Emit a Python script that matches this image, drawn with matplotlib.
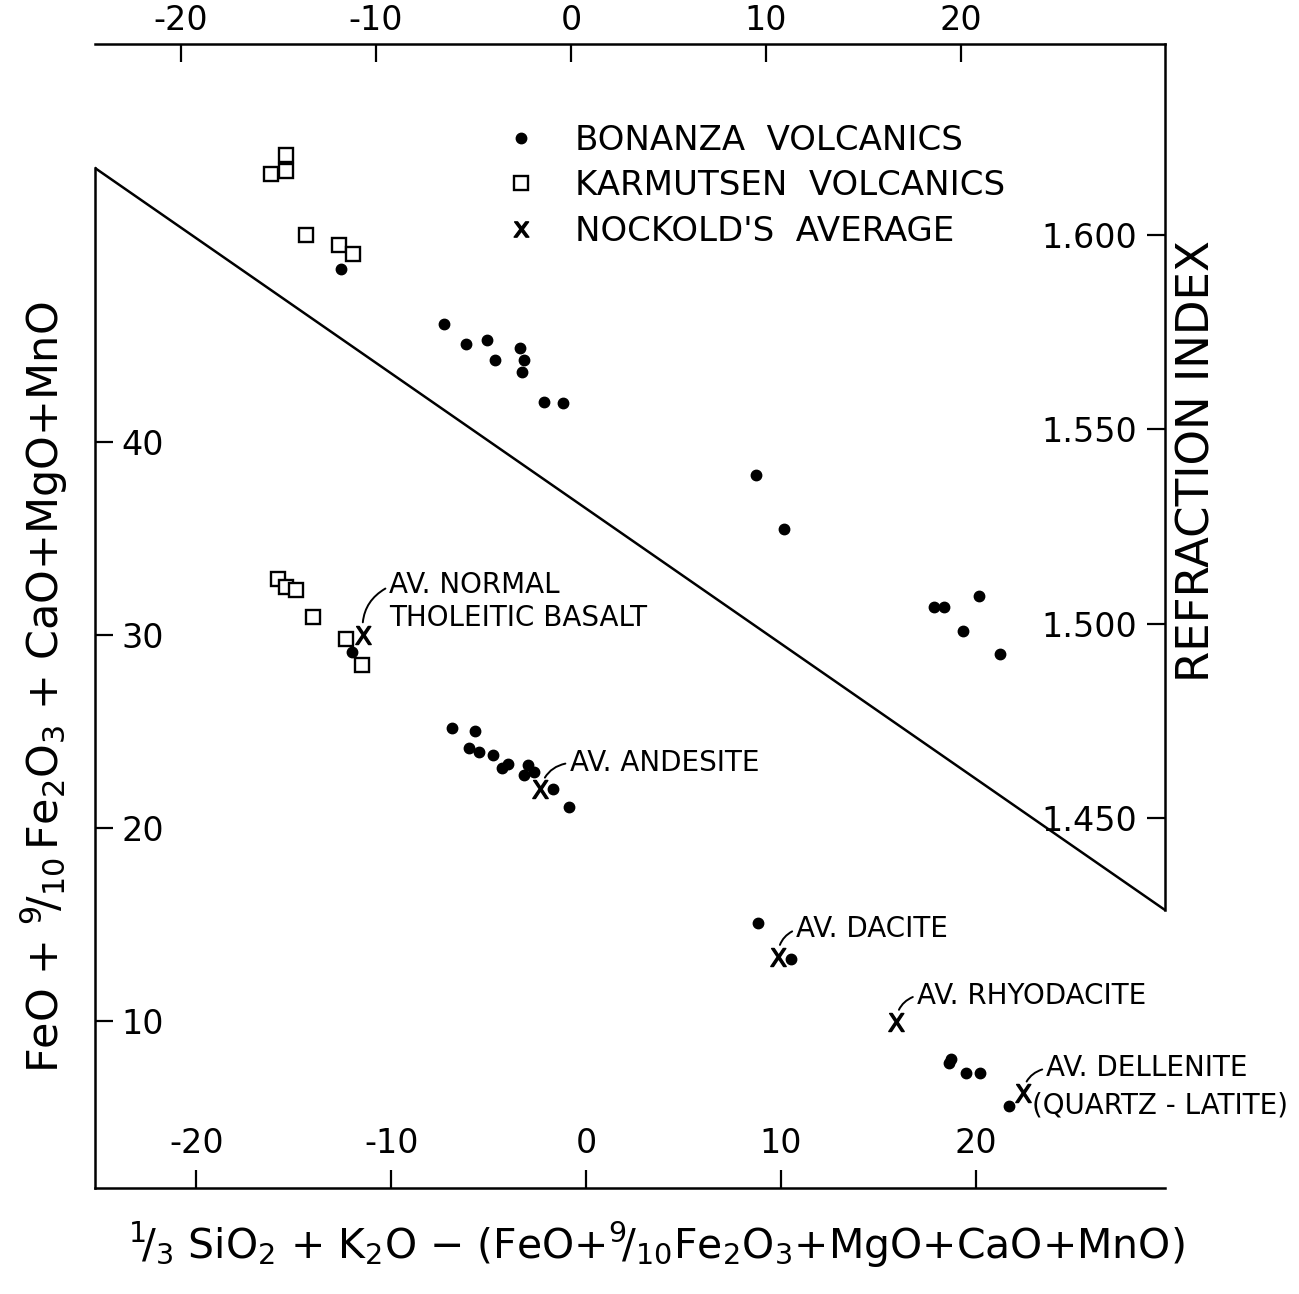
import matplotlib.pyplot as plt
from matplotlib.lines import Line2D

plt.rcParams['font.family'] = 'DejaVu Sans'
plt.rcParams['mathtext.default'] = 'regular'
plt.rcParams['axes.unicode_minus'] = False

# --- upper diagram: refraction index of glass vs composition parameter ---
bon_ri_x = [-11.8, -6.5, -5.4, -4.3, -3.9, -2.6, -2.4, -2.5, -1.4, -0.4,
            9.5, 10.9, 18.6, 19.1, 20.9, 20.1, 22.0]
bon_ri = [1.5913, 1.5771, 1.5720, 1.5730, 1.5678, 1.5709, 1.5678, 1.5648, 1.5570, 1.5568,
          1.5383, 1.5244, 1.5043, 1.5043, 1.5071, 1.4981, 1.4922]
kar_ri_x = [-14.6, -14.6, -15.4, -13.6, -11.9, -11.2]
kar_ri = [1.6206, 1.6165, 1.6157, 1.6000, 1.5974, 1.5951]

# --- lower diagram: mafic sum vs composition parameter ---
bon_x = [-12.0, -6.9, -5.7, -6.0, -5.5, -4.8, -4.3, -4.0, -3.0, -3.2, -2.7, -1.7, -0.9,
         8.8, 10.5, 18.7, 18.6, 19.5, 20.2, 21.7]
bon_y = [29.1, 25.2, 25.0, 24.15, 23.95, 23.8, 23.1, 23.3, 23.25, 22.75, 22.9, 22.0, 21.1,
         15.1, 13.2, 8.05, 7.8, 7.3, 7.3, 5.6]
kar_x = [-15.8, -15.4, -14.9, -14.0, -12.3, -11.5]
kar_y = [32.9, 32.5, 32.3, 30.9, 29.8, 28.45]

# Nockold's averages
nock_x = [-11.45, -2.35, 9.85, 15.9, 22.4]
nock_y = [30.0, 22.0, 13.3, 9.95, 6.25]
nock_names = ['AV. NORMAL\nTHOLEITIC BASALT', 'AV. ANDESITE', 'AV. DACITE',
              'AV. RHYODACITE', 'AV. DELLENITE']

fig = plt.figure(figsize=(12.99, 12.94), dpi=100)
W, H = 1299, 1294
left_px, right_px, top_px, bot_px = 95, 1165, 44, 1188
rect = [left_px / W, 1 - bot_px / H, (right_px - left_px) / W, (bot_px - top_px) / H]

ax = fig.add_axes(rect)
ax2 = fig.add_axes(rect, label='upper')
ax2.set_facecolor('none')

# lower axes (bottom / left)
ax.set_xlim(-25.2, 29.7)
ax.set_ylim(1.35, 60.6)
ax.set_xticks([-20, -10, 0, 10, 20])
ax.set_yticks([10, 20, 30, 40])
ax.spines['top'].set_visible(False)
ax.spines['right'].set_visible(False)
ax.spines['left'].set_bounds(1.35, 54.2)
for s in ['left', 'bottom']:
    ax.spines[s].set_linewidth(1.8)
ax.tick_params(axis='both', direction='in', length=13, width=1.6, labelsize=24)
ax.tick_params(axis='y', pad=-19)
ax.tick_params(axis='x', pad=-20)
for t in ax.yaxis.get_major_ticks():
    t.label1.set_horizontalalignment('left')
for t in ax.xaxis.get_major_ticks():
    t.label1.set_verticalalignment('bottom')

# upper axes (top / right)
ax2.set_xlim(-24.4, 30.45)
ax2.set_ylim(1.3548, 1.6491)
ax2.xaxis.tick_top()
ax2.yaxis.tick_right()
ax2.set_xticks([-20, -10, 0, 10, 20])
ax2.set_yticks([1.45, 1.50, 1.55, 1.60])
ax2.set_yticklabels(['1.450', '1.500', '1.550', '1.600'])
ax2.spines['left'].set_visible(False)
ax2.spines['bottom'].set_visible(False)
ax2.spines['right'].set_bounds(1.4263, 1.6491)
for s in ['top', 'right']:
    ax2.spines[s].set_linewidth(1.8)
ax2.tick_params(axis='both', direction='in', length=13, width=1.6, labelsize=24)
ax2.tick_params(axis='x', pad=5)
ax2.tick_params(axis='y', pad=-20)
for t in ax2.yaxis.get_major_ticks():
    t.label2.set_horizontalalignment('right')

# diagonal dividing the two diagrams
ax2.plot([0, 1], [0.8916, 0.243], transform=ax2.transAxes, color='black', lw=1.8)

# points
ax2.plot(kar_ri_x, kar_ri, 's', ms=10, mfc='white', mec='black', mew=1.7, ls='none')
ax2.plot(bon_ri_x, bon_ri, 'o', ms=7.5, color='black', ls='none')
ax.plot(kar_x, kar_y, 's', ms=10, mfc='white', mec='black', mew=1.7, ls='none')
ax.plot(bon_x, bon_y, 'o', ms=7.5, color='black', ls='none')
ax.plot(nock_x, nock_y, marker='$X$', ms=13, color='black', ls='none')

# labels for Nockold's averages
offsets = [(19, 24), (21, 19), (13, 20), (15, 19), (17, 18)]
relposes = [(0, 0.75), (0, 0.5), (0, 0.5), (0, 0.5), (0, 0.5)]
for x, y, name, off, rp in zip(nock_x, nock_y, nock_names, offsets, relposes):
    ax.annotate(name, xy=(x, y), xytext=off, textcoords='offset points',
                ha='left', va='center', fontsize=20, linespacing=1.2,
                arrowprops=dict(arrowstyle='-', lw=1.4, color='black', relpos=rp,
                                connectionstyle='arc3,rad=0.35', shrinkA=1, shrinkB=9))
ax.annotate('(QUARTZ - LATITE)', xy=(nock_x[-1], nock_y[-1]), xytext=(7, -9),
            textcoords='offset points', ha='left', va='center', fontsize=20)

# legend
handles = [Line2D([], [], marker='o', ms=7.5, color='black', ls='none'),
           Line2D([], [], marker='s', ms=10, mfc='white', mec='black', mew=1.7, ls='none'),
           Line2D([], [], marker='$x$', ms=11, color='black', ls='none')]
ax2.legend(handles, ['BONANZA  VOLCANICS', 'KARMUTSEN  VOLCANICS', "NOCKOLD'S  AVERAGE"],
           loc='upper left', bbox_to_anchor=(0.385, 0.93), frameon=False, fontsize=24.5,
           handlelength=0.8, handletextpad=1.2, labelspacing=0.36,
           borderaxespad=0, borderpad=0)

# axis titles
ax.set_ylabel(r'FeO + $^9\!/_{10}\,$Fe$_2$O$_3$ + CaO+MgO+MnO', fontsize=31, va='center')
ax.yaxis.set_label_coords(-0.047, 0.438)
ax.set_xlabel(r'$^1\!/_3$ SiO$_2$ + K$_2$O $-$ (FeO+$^9\!/_{10}$Fe$_2$O$_3$+MgO+CaO+MnO)',
              fontsize=29.5, va='center')
ax.xaxis.set_label_coords(0.525, -0.05)
ax2.yaxis.set_label_position('right')
ax2.set_ylabel('REFRACTION INDEX', fontsize=32.5, va='center')
ax2.yaxis.set_label_coords(1.03, 0.635)

fig.savefig('out.png', dpi=100)
